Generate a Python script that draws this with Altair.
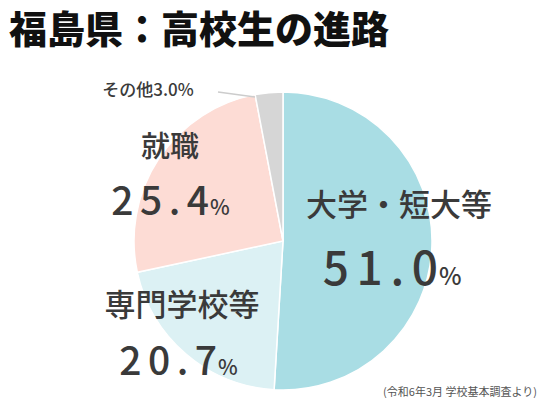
import altair as alt
import pandas as pd

categories = ["大学・短大等", "専門学校等", "就職", "その他"]
values = [51.0, 20.7, 25.4, 3.0]
order = [1, 2, 3, 4]
colors = ["#a9dde4", "#dcf1f4", "#fddcd5", "#d6d6d6"]

title_text = "福島県：高校生の進路"
source_text = "(令和6年3月 学校基本調査より)"

df = pd.DataFrame({"cat": categories, "value": values, "order": order})
# spaced-out digits for the big percentage labels
df["numtxt"] = ["\u2006".join(f"{v:.1f}") for v in df["value"]]

CX, CY, R = 275, 233, 149
FONT = "Noto Sans CJK JP"
TXT = "#3a3a3a"

pie = alt.Chart(df).mark_arc(radius=R, stroke="white", strokeWidth=1.5).encode(
    theta=alt.Theta("value:Q", stack=True),
    order=alt.Order("order:Q"),
    color=alt.Color("cat:N", scale=alt.Scale(domain=categories, range=colors), legend=None),
    x=alt.value(CX),
    y=alt.value(CY),
)

base = alt.Chart(df)

def label(cat, x, y, size, **kw):
    return base.transform_filter(alt.datum.cat == cat).mark_text(
        font=FONT, fontSize=size, color=TXT, fontWeight=500, baseline="middle", **kw
    ).encode(text="cat:N", x=alt.value(x), y=alt.value(y))

def number(cat, x, y, size, psize):
    num = base.transform_filter(alt.datum.cat == cat).mark_text(
        font=FONT, fontSize=size, color=TXT, fontWeight=500,
        align="right", baseline="alphabetic").encode(
        text="numtxt:N", x=alt.value(x), y=alt.value(y))
    pct = base.transform_filter(alt.datum.cat == cat).mark_text(
        font=FONT, fontSize=psize, color=TXT, fontWeight=500,
        align="left", baseline="alphabetic").encode(
        text=alt.value("%"), x=alt.value(x + 1), y=alt.value(y))
    return num + pct

other = base.transform_filter(alt.datum.cat == "その他").transform_calculate(
    t="datum.cat + format(datum.value, '.1f') + '%'"
).mark_text(font=FONT, fontSize=17, color=TXT, fontWeight=500, baseline="middle").encode(
    text="t:N", x=alt.value(140), y=alt.value(83))

leader = base.transform_filter(alt.datum.cat == "その他").mark_rule(
    color="#cccccc", strokeWidth=1.5).encode(
    x=alt.value(210), y=alt.value(84), x2=alt.value(247), y2=alt.value(89))

title = base.transform_filter(alt.datum.cat == "その他").mark_text(
    font=FONT, fontSize=38, fontWeight=900, color="#111111", align="left", baseline="middle"
).encode(text=alt.value(title_text), x=alt.value(1), y=alt.value(24))

source = base.transform_filter(alt.datum.cat == "その他").mark_text(
    font=FONT, fontSize=11, color="#555555", align="right", baseline="middle"
).encode(text=alt.value(source_text), x=alt.value(529), y=alt.value(385))

chart = alt.layer(
    pie,
    leader,
    title,
    other,
    label("就職", 162, 140, 29),
    number("就職", 201, 207, 39, 21),
    label("専門学校等", 174, 299, 31),
    number("専門学校等", 209, 367, 39, 21),
    label("大学・短大等", 391, 199, 31),
    number("大学・短大等", 430, 277, 46, 24),
    source,
).properties(
    width=532, height=390, padding=0,
    autosize=alt.AutoSizeParams(type="fit", contains="padding"),
    background="white",
).configure_view(stroke=None)

chart.save("out.html", embed_options={"renderer": "svg", "actions": False})
